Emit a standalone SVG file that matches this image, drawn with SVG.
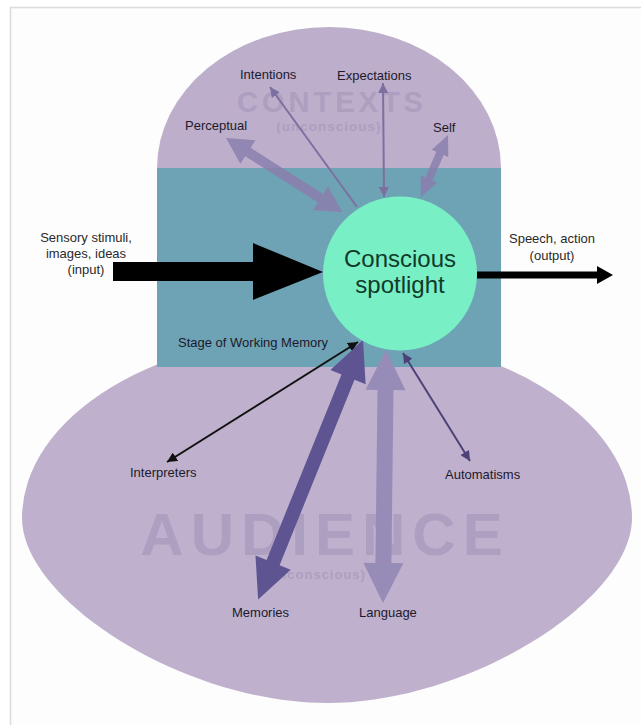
<svg xmlns="http://www.w3.org/2000/svg" width="641" height="725" viewBox="0 0 641 725">
  <style>
    .lbl { font-family: "Liberation Sans", Arial, sans-serif; font-size: 13px; fill: #1c1a2c; }
    .io { font-family: "Liberation Sans", Arial, sans-serif; font-size: 13px; fill: #2a2a2a; text-anchor: middle; }
    .ghost { font-family: "Liberation Sans", Arial, sans-serif; font-weight: bold; fill: #ad9fc0; text-anchor: middle; }
    .spot { font-family: "Liberation Sans", Arial, sans-serif; font-size: 24px; fill: #113a2a; text-anchor: middle; }
    .thin { fill: none; stroke-width: 2; }
  </style>
  <defs>
    <marker id="headBlack" viewBox="0 0 10 10" refX="10" refY="5" markerWidth="10" markerHeight="10" markerUnits="userSpaceOnUse" orient="auto-start-reverse">
      <path d="M0,0 L10,5 L0,10 z" fill="#111"/>
    </marker>
    <marker id="headPurple" viewBox="0 0 10 10" refX="10" refY="5" markerWidth="10" markerHeight="10" markerUnits="userSpaceOnUse" orient="auto-start-reverse">
      <path d="M0,0 L10,5 L0,10 z" fill="#7c70a0"/>
    </marker>
    <marker id="headDark" viewBox="0 0 10 10" refX="10" refY="5" markerWidth="10" markerHeight="10" markerUnits="userSpaceOnUse" orient="auto-start-reverse">
      <path d="M0,0 L10,5 L0,10 z" fill="#4c4277"/>
    </marker>
  </defs>

  <!-- page frame -->
  <rect x="0" y="0" width="641" height="725" fill="#ffffff"/>
  <rect x="10.5" y="7.5" width="640" height="730" fill="#fdfdfd" stroke="#dcdcdc" stroke-width="1.5"/>

  <!-- background regions -->
  <g id="audience">
    <path d="M22,518 A305,185 0 0 1 632,518 C632,600 470,703 327,703 C184,703 22,600 22,518 Z" fill="#bfb1cd"/>
    <text class="ghost" x="325" y="555" font-size="60" letter-spacing="7">AUDIENCE</text>
    <text class="ghost" x="315" y="579" font-size="13" letter-spacing="1">(unconscious)</text>
  </g>
  <g id="contexts">
    <path d="M157,168 A172,141 0 0 1 501,168 Z" fill="#bdaecb"/>
    <text class="ghost" x="332" y="112" font-size="29" letter-spacing="4">CONTEXTS</text>
    <text class="ghost" x="329" y="131" font-size="13.5" letter-spacing="1">(unconscious)</text>
  </g>
  <g id="working-memory">
    <rect x="157" y="168" width="344" height="199" fill="#6ea3b5"/>
    <text class="lbl" x="178" y="347" fill="#1f2b44">Stage of Working Memory</text>
  </g>

  <!-- connectors -->
  <g id="connectors">
    <!-- input / output -->
    <polygon points="113,262 253,262 253,243 323,272 253,300 253,281 113,281" fill="#000"/>
    <line x1="477" y1="275" x2="600" y2="275" stroke="#000" stroke-width="7"/>
    <polygon points="597,266 613,275 597,284" fill="#000"/>

    <!-- contexts feeding the spotlight -->
    <polygon transform="translate(226,138) rotate(32.5)" points="0,0 26,-14 26,-5 112,-5 112,-14 138,0 112,14 112,5 26,5 26,14" fill="#8b7fae" opacity="0.85"/>
    <line class="thin" x1="357" y1="207" x2="270" y2="87" stroke="#7c70a0" marker-end="url(#headPurple)"/>
    <line class="thin" x1="384" y1="197" x2="383" y2="83" stroke="#7c70a0" marker-start="url(#headPurple)" marker-end="url(#headPurple)"/>
    <polygon transform="translate(448,135) rotate(113.5)" points="0,0 20,-9 20,-4 48,-4 48,-9 68,0 48,9 48,4 20,4 20,9" fill="#8b7fae" opacity="0.85"/>

    <!-- spotlight broadcasting to the audience -->
    <line class="thin" x1="358" y1="342" x2="167" y2="462" stroke="#111" marker-start="url(#headBlack)" marker-end="url(#headBlack)"/>
    <polygon transform="translate(363,340) rotate(112)" points="0,0 40,-19 40,-7 240,-7 240,-19 280,0 240,19 240,7 40,7 40,19" fill="#5e5491"/>
    <polygon transform="translate(386,350) rotate(90.7)" points="0,0 40,-20 40,-8 213,-8 213,-20 253,0 213,20 213,8 40,8 40,20" fill="#978cb7"/>
    <line class="thin" x1="403" y1="353" x2="470" y2="461" stroke="#4c4277" stroke-width="1.5" marker-start="url(#headDark)" marker-end="url(#headDark)"/>
  </g>

  <!-- nodes -->
  <g id="spotlight">
    <circle cx="400" cy="273.5" r="77" fill="#79efc5"/>
    <text class="spot" x="400" y="267">Conscious</text>
    <text class="spot" x="400" y="293">spotlight</text>
  </g>

  <g id="input">
    <text class="io" x="86" y="242">Sensory stimuli,</text>
    <text class="io" x="86" y="258">images, ideas</text>
    <text class="io" x="86" y="274">(input)</text>
  </g>
  <g id="output">
    <text class="io" x="552" y="243">Speech, action</text>
    <text class="io" x="552" y="260">(output)</text>
  </g>

  <g id="intentions"><text class="lbl" x="240" y="79">Intentions</text></g>
  <g id="expectations"><text class="lbl" x="337" y="80" font-size="15.5">Expectations</text></g>
  <g id="perceptual"><text class="lbl" x="185" y="130">Perceptual</text></g>
  <g id="self"><text class="lbl" x="433" y="132">Self</text></g>

  <g id="interpreters"><text class="lbl" x="130" y="477">Interpreters</text></g>
  <g id="automatisms"><text class="lbl" x="445" y="479">Automatisms</text></g>
  <g id="memories"><text class="lbl" x="232" y="617">Memories</text></g>
  <g id="language"><text class="lbl" x="359" y="617">Language</text></g>
</svg>
